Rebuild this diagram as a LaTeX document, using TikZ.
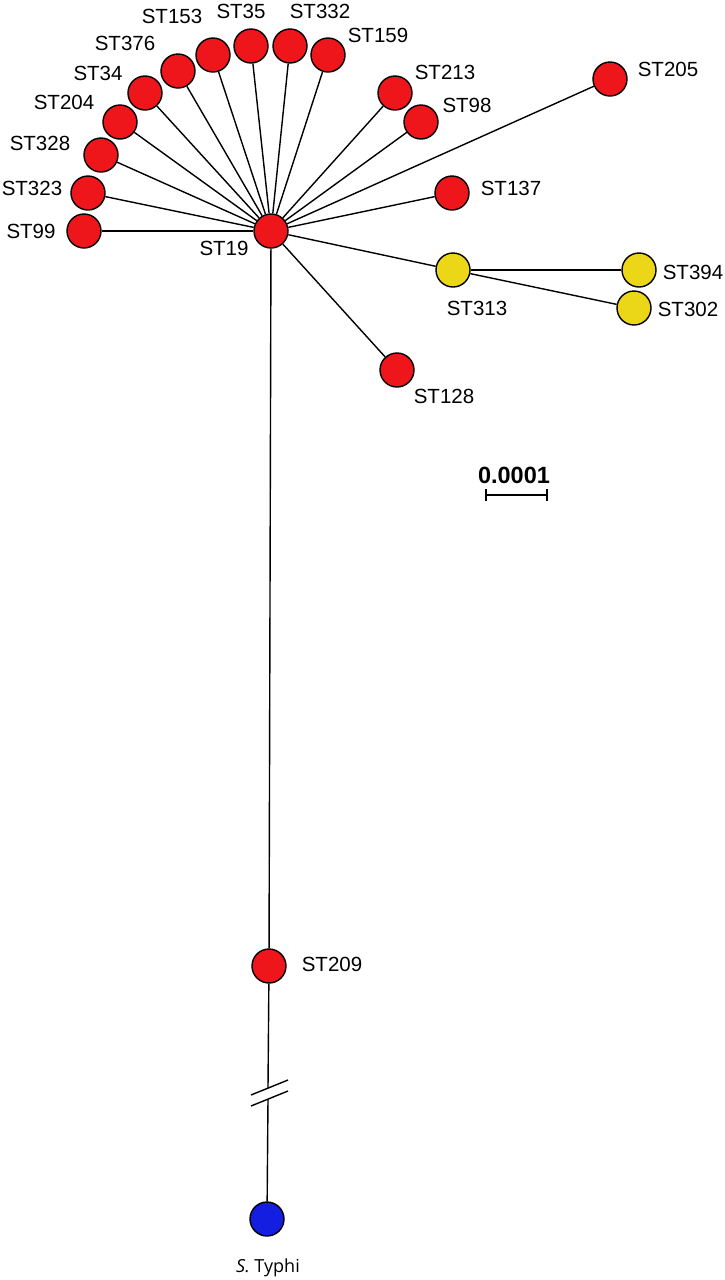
\documentclass[tikz,border=0pt]{standalone}
\usepackage{fontspec}
\setmainfont{Liberation Sans}
\newfontfamily\typhifont{Open Sans}
\definecolor{stred}{RGB}{238,22,26}
\definecolor{styel}{RGB}{236,214,24}
\definecolor{stblue}{RGB}{20,30,225}
\begin{document}
\begin{tikzpicture}[x=1pt,y=-1pt,
  st/.style={circle,draw=black,line width=1.4pt,minimum size=34pt,inner sep=0pt,fill=stred},
  sty/.style={st,fill=styel},
  stb/.style={st,fill=stblue},
  lab/.style={font=\fontsize{20.5}{23}\selectfont,inner sep=0pt},
  edge/.style={line width=1.4pt}]
\useasboundingbox (0,0) rectangle (725,1280);
% nodes
\node[st] (st19) at (271,231) {};
\node[st] (st99) at (84,231) {};
\node[st] (st323) at (88,193) {};
\node[st] (st328) at (101,155) {};
\node[st] (st204) at (120,122) {};
\node[st] (st34) at (145,93) {};
\node[st] (st376) at (178,71) {};
\node[st] (st153) at (213,55) {};
\node[st] (st35) at (251,46) {};
\node[st] (st332) at (290,46) {};
\node[st] (st159) at (328,55) {};
\node[st] (st213) at (395,93) {};
\node[st] (st98) at (421,122) {};
\node[st] (st205) at (610,79) {};
\node[st] (st137) at (452,193) {};
\node[sty] (st313) at (453,270) {};
\node[sty] (st394) at (639,270) {};
\node[sty] (st302) at (634,308) {};
\node[st] (st128) at (397,370) {};
\node[st] (st209) at (269,966) {};
\node[stb] (typhi) at (267,1219) {};
% labels
\node[lab] (l99) at (31,231) {ST99};
\node[lab] (l323) at (32,188) {ST323};
\node[lab] (l328) at (40,143) {ST328};
\node[lab] (l204) at (64,102) {ST204};
\node[lab] (l34) at (98,73) {ST34};
\node[lab] (l376) at (125,43) {ST376};
\node[lab] (l153) at (172,16) {ST153};
\node[lab] (l35) at (241,11) {ST35};
\node[lab] (l332) at (320,11) {ST332};
\node[lab] (l159) at (378,35) {ST159};
\node[lab] (l213) at (445,72) {ST213};
\node[lab] (l98) at (467,105) {ST98};
\node[lab] (l205) at (668,69) {ST205};
\node[lab] (l137) at (511,188) {ST137};
\node[lab] (l313) at (477,308) {ST313};
\node[lab] (l394) at (693,272) {ST394};
\node[lab] (l302) at (688,309) {ST302};
\node[lab] (l128) at (444,396) {ST128};
\node[lab] (l19) at (224,248) {ST19};
\node[lab] (l209) at (332,964) {ST209};
\node[inner sep=0pt,font=\typhifont\fontsize{18}{22}\selectfont] (ltyphi) at (268,1268) {\textit{S.} Typhi};
% scale bar
\node[inner sep=0pt,font=\fontsize{23.5}{27}\selectfont\bfseries] (scale) at (514,475) {0.0001};
\coordinate (sb1) at (486,495);
\coordinate (sb2) at (547,495);
\draw[edge] (sb1) -- (sb2);
\draw[edge] ([yshift=-6pt]sb1) -- ([yshift=6pt]sb1);
\draw[edge] ([yshift=-6pt]sb2) -- ([yshift=6pt]sb2);
% edges
\foreach \n in {st99,st323,st328,st204,st34,st376,st153,st35,st332,st159,st213,st98,st205,st137,st313,st128,st209}
  \draw[edge] (st19) -- (\n);
\draw[edge] (st313) -- (st394);
\draw[edge] (st313) -- (st302);
% broken branch
\coordinate (br1) at (268,1088);
\coordinate (br2) at (268,1099);
\draw[edge] (st209) -- (br1);
\draw[edge] (br2) -- (typhi);
\coordinate (m1a) at (251,1095);
\coordinate (m1b) at (288,1080);
\coordinate (m2a) at (251,1106);
\coordinate (m2b) at (288,1091);
\draw[edge] (m1a) -- (m1b);
\draw[edge] (m2a) -- (m2b);
\end{tikzpicture}
\end{document}
